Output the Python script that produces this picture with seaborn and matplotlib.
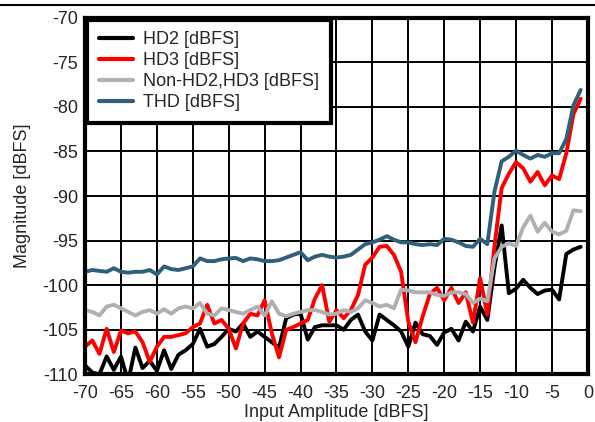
import numpy as np
import pandas as pd
import matplotlib
matplotlib.use("Agg")
import matplotlib.pyplot as plt
from matplotlib.lines import Line2D
import seaborn as sns

# Input amplitude, 1 dB steps
amplitude = list(range(-70, 0))

hd2 = [-109.0, -109.8, -110.0, -108.0, -109.5, -108.0, -110.8, -107.0, -109.3, -108.5,
       -109.6, -107.3, -109.4, -107.8,
       -107.3, -106.6, -104.9, -106.9, -106.6, -105.8, -104.9, -105.2, -104.3, -105.8,
       -105.2, -105.8, -106.4,
       -107.0, -103.7, -103.3, -103.2, -106.1, -104.7, -104.5, -104.5, -104.5, -105.0,
       -103.9, -103.3, -105.2,
       -106.2, -103.3, -103.9, -104.5, -105.2, -106.9, -104.2, -105.5, -105.7, -106.7,
       -105.3, -104.9, -106.2,
       -104.1, -105.2, -102.4, -103.9, -98.0, -93.3, -100.9, -100.4, -99.4, -100.3,
       -101.0, -100.6, -100.5, -101.6, -96.5, -96.0, -95.7]

hd3 = [-106.9, -106.2, -107.7, -104.9, -107.5, -105.1, -105.4, -105.2, -106.4, -108.6,
       -106.9, -105.8, -105.8, -105.6,
       -105.4, -104.7, -104.3, -102.2, -104.3, -103.9, -104.9, -107.1, -104.3, -103.2,
       -103.4, -101.7, -105.4,
       -108.1, -105.0, -104.7, -104.3, -103.9, -101.5, -100.0, -104.1, -102.8, -103.7,
       -102.8, -101.1, -97.7,
       -96.9, -95.7, -95.6, -96.6, -98.5, -104.1, -106.4, -103.5, -101.0, -100.3,
       -101.7, -100.3, -102.0,
       -100.8, -104.2, -99.2, -103.3, -95.6, -89.1, -87.5, -86.2, -86.9, -88.4,
       -87.3, -88.8, -87.7, -88.1, -85.2, -80.8, -79.1]

non_hd23 = [-102.8, -103.0, -103.4, -102.4, -102.2, -102.6, -103.0, -103.4, -103.0, -102.8,
            -103.2, -102.7, -103.2, -102.6,
            -102.4, -102.6, -102.0, -103.2, -103.4, -102.6, -102.8, -103.0, -103.2, -102.8,
            -102.4, -103.4, -101.8,
            -103.2, -103.5, -103.2, -103.0, -102.8, -102.8, -103.0, -103.3, -103.2, -102.8,
            -103.0, -102.6, -101.7,
            -102.0, -102.4, -102.2, -102.6, -100.5, -100.6, -100.8, -100.8, -100.8, -101.1,
            -101.2, -100.8, -100.8,
            -101.0, -102.0, -101.5, -101.8, -97.0, -95.7, -95.3, -95.6, -93.5, -92.2,
            -94.0, -93.0, -94.0, -94.3, -93.9, -91.6, -91.7]

thd = [-98.5, -98.3, -98.4, -98.5, -98.1, -98.5, -98.6, -98.5, -98.5, -98.3,
       -98.8, -97.9, -98.2, -98.3,
       -98.1, -97.9, -97.0, -97.3, -97.3, -97.1, -97.0, -96.95, -97.3, -97.0,
       -97.1, -97.3, -97.3,
       -97.2, -96.9, -96.6, -96.3, -97.2, -96.8, -96.6, -96.8, -96.9, -96.8,
       -96.6, -96.0, -95.4,
       -95.2, -94.9, -94.5, -94.9, -95.2, -95.2, -95.4, -95.5, -95.4, -95.5,
       -94.8, -94.9, -95.2,
       -95.6, -95.7, -94.8, -95.4, -89.5, -86.1, -85.6, -84.9, -85.4, -85.8,
       -85.4, -85.6, -85.2, -85.2, -83.6, -79.8, -78.1]

labels = ["HD2 [dBFS]", "HD3 [dBFS]", "Non-HD2,HD3 [dBFS]", "THD [dBFS]"]
colors = ["#000000", "#ff0000", "#b0b0b0", "#2e6079"]

df = pd.concat([
    pd.DataFrame({"amp": amplitude, "mag": vals, "series": name})
    for name, vals in zip(labels, [hd2, hd3, non_hd23, thd])
])

sns.set_style("white")
plt.rcParams["font.family"] = ["Liberation Sans", "DejaVu Sans"]
plt.rcParams["axes.unicode_minus"] = False

fig = plt.figure(figsize=(5.95, 4.22), dpi=100)
ax = fig.add_axes([0.143, 0.113, 0.845, 0.845])

sns.lineplot(data=df, x="amp", y="mag", hue="series", hue_order=labels,
             palette=dict(zip(labels, colors)), linewidth=2.8, ax=ax,
             legend=False)

ax.set_xlim(-70, 0)
ax.set_ylim(-110, -70)
ax.set_xticks(range(-70, 1, 5))
ax.set_yticks(range(-110, -69, 5))
ax.grid(True, color="black", linewidth=1.4)
ax.set_axisbelow(True)
ax.tick_params(length=0, labelsize=13)
ax.tick_params(axis="x", pad=8)
ax.tick_params(axis="y", pad=5)
for s in ax.spines.values():
    s.set_color("black")
    s.set_linewidth(3)
ax.set_xlabel("Input Amplitude [dBFS]", fontsize=13, labelpad=1)
ax.set_ylabel("Magnitude [dBFS]", fontsize=13, labelpad=8)

handles = [Line2D([0], [0], color=c, linewidth=3) for c in colors]
leg = ax.legend(handles, labels, loc="upper left", fontsize=13, frameon=True,
                fancybox=False, framealpha=1, edgecolor="black",
                borderaxespad=0.1, handlelength=1.9, labelspacing=0.22,
                borderpad=0.65, handletextpad=0.55)
leg.get_frame().set_linewidth(3)

# rule at the top of the page
fig.add_artist(Line2D([0, 1], [0.988, 0.988], color="black", linewidth=1.5,
                      transform=fig.transFigure))

fig.savefig("out.png", dpi=100)
